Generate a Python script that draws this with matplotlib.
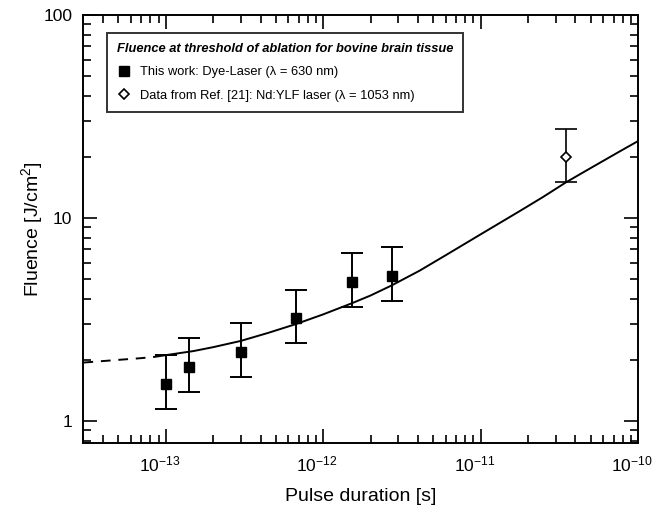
import matplotlib
matplotlib.use("Agg")
import matplotlib.pyplot as plt
import matplotlib.transforms as mtransforms
from matplotlib.ticker import LogLocator, FixedLocator, FixedFormatter, NullFormatter
from matplotlib.lines import Line2D

plt.rcParams['font.family'] = ['Liberation Sans', 'DejaVu Sans']
plt.rcParams['mathtext.fontset'] = 'custom'
plt.rcParams['mathtext.rm'] = 'Liberation Sans'
plt.rcParams['mathtext.it'] = 'Liberation Sans:italic'
plt.rcParams['mathtext.bf'] = 'Liberation Sans:bold'

# Data: this work (dye laser)
dye_tau = [1.0e-13, 1.4e-13, 3.0e-13, 6.7e-13, 1.52e-12, 2.72e-12]
dye_F = [1.52, 1.85, 2.19, 3.22, 4.84, 5.18]
dye_F_hi = [2.11, 2.56, 3.04, 4.42, 6.73, 7.2]
dye_F_lo = [1.15, 1.39, 1.65, 2.42, 3.64, 3.9]

# Data from Ref. [21] (Nd:YLF)
ref_tau = [3.5e-11]
ref_F = [20.0]
ref_F_hi = [27.4]
ref_F_lo = [15.0]

# Fit curve
curve_dash_tau = [3.0e-14, 5.0e-14, 7.0e-14, 8.5e-14]
curve_dash_F = [1.94, 2.0, 2.04, 2.07]
curve_tau = [8.5e-14, 1.0e-13, 1.5e-13, 2.0e-13, 3.0e-13, 4.5e-13, 6.7e-13, 1.0e-12,
             1.52e-12, 2.0e-12, 2.72e-12, 4.1e-12, 6.0e-12, 1.0e-11, 1.77e-11,
             2.5e-11, 3.5e-11, 5.0e-11, 7.6e-11, 1.0e-10]
curve_F = [2.07, 2.11, 2.21, 2.31, 2.48, 2.72, 3.0, 3.35,
           3.8, 4.15, 4.65, 5.5, 6.55, 8.3, 10.8,
           12.7, 15.0, 17.6, 21.2, 23.9]

x_ticks = [1e-13, 1e-12, 1e-11, 1e-10]
x_labels = ['$10^{-13}$', '$10^{-12}$', '$10^{-11}$', '$10^{-10}$']
y_ticks = [1, 10, 100]
y_labels = ['1', '10', '100']

fig = plt.figure(figsize=(6.57, 5.15), dpi=100)
ax = fig.add_axes([0.127, 0.14, 0.844, 0.831])

ax.set_xscale('log')
ax.set_yscale('log')
ax.set_xlim(3.0e-14, 1e-10)
ax.set_ylim(0.78, 100)

ax.plot(curve_dash_tau, curve_dash_F, color='black', lw=1.4, ls=(0, (5, 4)))
ax.plot(curve_tau, curve_F, color='black', lw=1.4)

yerr_dye = [[f - lo for f, lo in zip(dye_F, dye_F_lo)],
            [hi - f for f, hi in zip(dye_F, dye_F_hi)]]
ax.errorbar(dye_tau, dye_F, yerr=yerr_dye, fmt='s', color='black', ms=7,
            capsize=8, elinewidth=1.4, capthick=1.4)
yerr_ref = [[f - lo for f, lo in zip(ref_F, ref_F_lo)],
            [hi - f for f, hi in zip(ref_F, ref_F_hi)]]
ax.errorbar(ref_tau, ref_F, yerr=yerr_ref, fmt='D', color='black', mfc='white',
            mec='black', ms=5.5, mew=1.2, capsize=8, elinewidth=1.2, capthick=1.2)

ax.xaxis.set_major_locator(FixedLocator(x_ticks))
ax.xaxis.set_major_formatter(FixedFormatter(x_labels))
ax.xaxis.set_minor_locator(LogLocator(base=10, subs=range(2, 10), numticks=20))
ax.xaxis.set_minor_formatter(NullFormatter())
ax.yaxis.set_major_locator(FixedLocator(y_ticks))
ax.yaxis.set_major_formatter(FixedFormatter(y_labels))
ax.yaxis.set_minor_locator(LogLocator(base=10, subs=range(2, 10), numticks=20))
ax.yaxis.set_minor_formatter(NullFormatter())

ax.tick_params(which='both', direction='in', top=True, right=True, width=1.2)
ax.tick_params(which='major', length=10, labelsize=12.5, pad=8)
ax.tick_params(which='minor', length=5.5)
for s in ax.spines.values():
    s.set_linewidth(1.4)

shift = mtransforms.ScaledTranslation(-6 / 100, 0, fig.dpi_scale_trans)
for lbl in ax.get_xticklabels():
    lbl.set_transform(lbl.get_transform() + shift)

ax.set_xlabel('Pulse duration [s]', fontsize=14, labelpad=10)
ax.set_ylabel('Fluence [J/cm$^2$]', fontsize=14, labelpad=-1)

handles = [Line2D([], [], ls='none', marker='s', color='black', ms=7),
           Line2D([], [], ls='none', marker='D', mfc='white', mec='black', ms=5.5, mew=1.2)]
labels = ['This work: Dye-Laser (\u03bb = 630 nm)',
          'Data from Ref. [21]: Nd:YLF laser (\u03bb = 1053 nm)']
leg = ax.legend(handles, labels, loc='upper left', bbox_to_anchor=(0.043, 0.958),
                prop={'size': 9.3},
                frameon=True, fancybox=False, edgecolor='black',
                handlelength=1.1, handletextpad=0.7, borderpad=0.75, labelspacing=0.9,
                borderaxespad=0,
                title='Fluence at threshold of ablation for bovine brain tissue',
                title_fontproperties={'weight': 'bold', 'style': 'italic', 'size': 9.3})
leg._legend_box.align = 'left'
leg.get_frame().set_linewidth(1.4)

fig.savefig('out.png', dpi=100)
